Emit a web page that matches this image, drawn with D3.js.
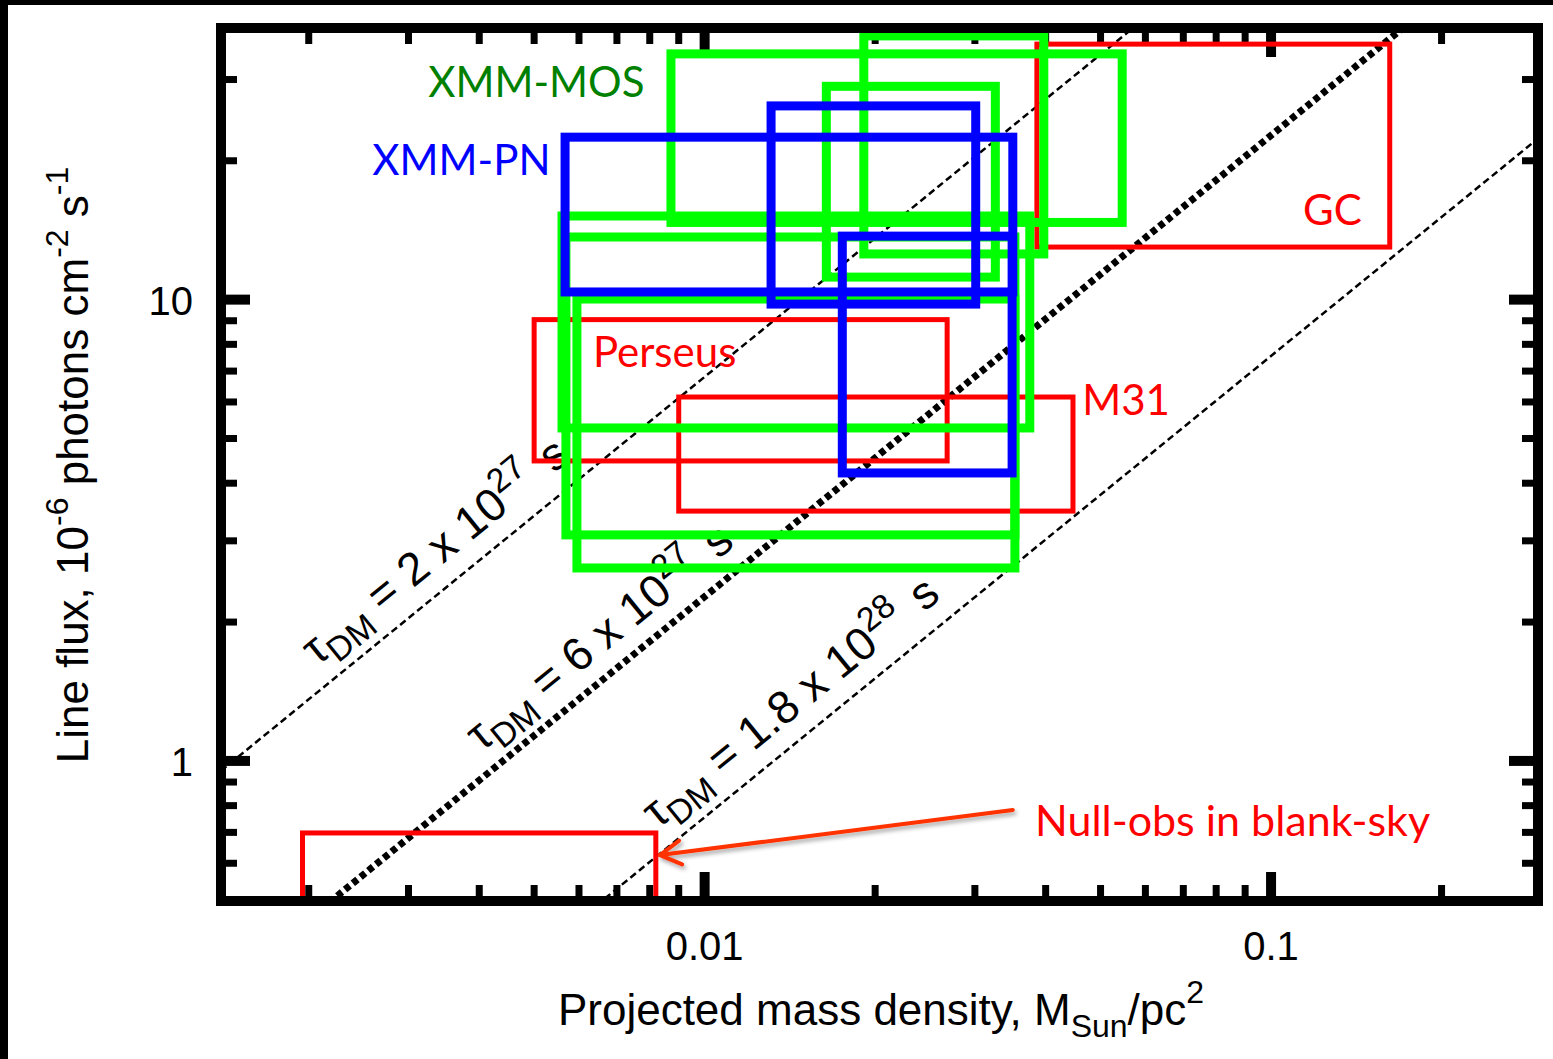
<!DOCTYPE html>
<html>
<head>
<meta charset="utf-8">
<script src="https://cdn.jsdelivr.net/npm/d3@7"></script>
<style>
  body { margin: 0; background: #fff; }
  text { white-space: pre; }
</style>
</head>
<body>
<div id="canvas"></div>
<script>
"use strict"

/* Size of the picture */
let svgWidth = 1553;
let svgHeight = 1059;

/* Centre of the thick black plot frame */
let leftEdge = 221;
let rightEdge = 1538;
let topEdge = 28;
let bottomEdge = 901;
let frameWidth = 10;

/* Axis ranges (log-log) */
let densityRange = [0.0014, 0.296];
let fluxRange = [0.497, 38.8];

/* Labelled ticks */
let xTickLabels = [0.01, 0.1];
let yTickLabels = [1, 10];

/* Boxes: [density low, density high, flux low, flux high] */
let redBoxes = [
    [0.0386, 0.162, 13.0, 35.8],   // GC
    [0.0050, 0.0268, 4.47, 9.05],  // Perseus
    [0.0090, 0.0447, 3.48, 6.15],  // M31
    [0.00195, 0.0082, 0.45, 0.698] // blank sky
];
let greenBoxes = [
    [0.00872, 0.0546, 14.7, 34.1],
    [0.0191, 0.0397, 12.56, 37.3],
    [0.0164, 0.0326, 11.19, 29.0],
    [0.0056, 0.0375, 5.27, 15.18],
    [0.00569, 0.0353, 3.09, 13.67],
    [0.00595, 0.0353, 2.62, 10.03]
];
let blueBoxes = [
    [0.00567, 0.0350, 10.39, 22.5],
    [0.0131, 0.0301, 9.78, 26.3],
    [0.0175, 0.0349, 4.21, 13.73]
];

/* Constant lifetime lines: flux = slope * density */
let lineSlopes = [680, 227, 75.5];
let lineMantissas = ["2", "6", "1.8"];
let lineExponents = ["27", "27", "28"];
let lineLabelStart = [0.00218, 0.00425, 0.0087];

/* Text annotations */
let boxLabels = ["XMM-MOS", "XMM-PN", "GC", "Perseus", "M31", "Null-obs in blank-sky"];
let boxLabelColors = ["#008000", "#0000ff", "#ff0000", "#ff0000", "#ff0000", "#ff0000"];
let boxLabelDensity = [0.00325, 0.00259, 0.1139, 0.00635, 0.0464, 0.0383];
let boxLabelFlux = [27.5, 18.63, 14.51, 7.14, 5.62, 0.688];

/* Arrow from the blank-sky label to its box: [density, flux] */
let arrowFrom = [0.0350, 0.783];
let arrowTo = [0.00834, 0.625];

let axisFont = "'Liberation Sans', Arial, Helvetica, sans-serif";
let noteFont = "Lato, 'Open Sans', sans-serif";

let svg = d3.select("#canvas")
    .append("svg")
    .attr("width", svgWidth)
    .attr("height", svgHeight);

svg.append("rect")
    .attr("width", svgWidth)
    .attr("height", svgHeight)
    .attr("fill", "white");

/* Black slide border on top and left */
svg.append("rect").attr("x", 0).attr("y", 0).attr("width", svgWidth).attr("height", 5).attr("fill", "black");
svg.append("rect").attr("x", 0).attr("y", 0).attr("width", 8).attr("height", svgHeight).attr("fill", "black");

let xScale = d3.scaleLog()
    .domain(densityRange)
    .range([leftEdge, rightEdge]);

let yScale = d3.scaleLog()
    .domain(fluxRange)
    .range([bottomEdge, topEdge]);

/* Clip everything inside the frame */
let half = frameWidth / 2;
svg.append("defs").append("clipPath")
    .attr("id", "plotClip")
    .append("rect")
    .attr("x", leftEdge + half)
    .attr("y", topEdge + half)
    .attr("width", rightEdge - leftEdge - frameWidth)
    .attr("height", bottomEdge - topEdge - frameWidth);

let shadow = svg.select("defs").append("filter")
    .attr("id", "shadow")
    .attr("x", "-10%").attr("y", "-50%")
    .attr("width", "120%").attr("height", "200%");
shadow.append("feDropShadow")
    .attr("dx", 2).attr("dy", 3)
    .attr("stdDeviation", 2)
    .attr("flood-color", "#000")
    .attr("flood-opacity", 0.35);

/* Ticks on all four sides */
function isMajor(v, list) {
    return list.some(function (m) { return Math.abs(v / m - 1) < 1e-6; });
}

let xTicks = xScale.ticks();
let yTicks = yScale.ticks();
let ticks = svg.append("g").attr("stroke", "black");

xTicks.forEach(function (t) {
    let major = isMajor(t, xTickLabels);
    let len = major ? 24 : 11;
    let w = major ? 10 : 7;
    let x = xScale(t);
    ticks.append("line")
        .attr("x1", x).attr("x2", x)
        .attr("y1", bottomEdge - half).attr("y2", bottomEdge - half - len)
        .attr("stroke-width", w);
    ticks.append("line")
        .attr("x1", x).attr("x2", x)
        .attr("y1", topEdge + half).attr("y2", topEdge + half + len)
        .attr("stroke-width", w);
});

yTicks.forEach(function (t) {
    let major = isMajor(t, yTickLabels);
    let len = major ? 24 : 11;
    let w = major ? 10 : 7;
    let y = yScale(t);
    ticks.append("line")
        .attr("x1", leftEdge + half).attr("x2", leftEdge + half + len)
        .attr("y1", y).attr("y2", y)
        .attr("stroke-width", w);
    ticks.append("line")
        .attr("x1", rightEdge - half).attr("x2", rightEdge - half - len)
        .attr("y1", y).attr("y2", y)
        .attr("stroke-width", w);
});

/* Tick labels */
xTickLabels.forEach(function (t) {
    svg.append("text")
        .attr("x", xScale(t))
        .attr("y", 960)
        .style("font-family", axisFont)
        .style("font-size", "40px")
        .style("text-anchor", "middle")
        .text(String(t));
});

yTickLabels.forEach(function (t) {
    svg.append("text")
        .attr("x", 193)
        .attr("y", yScale(t) + 15)
        .style("font-family", axisFont)
        .style("font-size", "40px")
        .style("text-anchor", "end")
        .text(String(t));
});

/* Axis titles */
let xTitle = svg.append("text")
    .attr("x", 881)
    .attr("y", 1025)
    .style("font-family", axisFont)
    .style("font-size", "44px")
    .style("text-anchor", "middle");
xTitle.append("tspan").text("Projected mass density, M");
xTitle.append("tspan").attr("dy", 12).style("font-size", "32px").text("Sun");
xTitle.append("tspan").attr("dy", -12).text("/pc");
xTitle.append("tspan").attr("dy", -22).style("font-size", "32px").text("2");

let yTitle = svg.append("text")
    .attr("transform", "translate(88,465) rotate(-90)")
    .style("font-family", axisFont)
    .style("font-size", "44px")
    .style("text-anchor", "middle");
yTitle.append("tspan").text("Line flux, 10");
yTitle.append("tspan").attr("dy", -20).style("font-size", "32px").text("-6");
yTitle.append("tspan").attr("dy", 20).text(" photons cm");
yTitle.append("tspan").attr("dy", -20).style("font-size", "32px").text("-2");
yTitle.append("tspan").attr("dy", 20).text(" s");
yTitle.append("tspan").attr("dy", -20).style("font-size", "32px").text("-1");

/* Constant lifetime lines */
let plot = svg.append("g").attr("clip-path", "url(#plotClip)");

let lineGen = d3.line()
    .x(function (d) { return xScale(d[0]); })
    .y(function (d) { return yScale(d[1]); });

lineSlopes.forEach(function (k, i) {
    let thick = (i === 1);
    plot.append("path")
        .attr("d", lineGen(densityRange.map(function (d) { return [d, k * d]; })))
        .attr("fill", "none")
        .attr("stroke", "black")
        .attr("stroke-width", thick ? 7 : 2.5)
        .attr("stroke-dasharray", thick ? "6,4" : "7,4");
});

/* Rotated labels on the lines */
lineSlopes.forEach(function (k, i) {
    let d = lineLabelStart[i];
    let px = xScale(d);
    let py = yScale(k * d);
    let angle = Math.atan2(yScale(k * d * 10) - py, xScale(d * 10) - px) * 180 / Math.PI;
    let t = svg.append("text")
        .attr("transform", "translate(" + px + "," + py + ") rotate(" + angle + ")")
        .attr("x", 0)
        .attr("y", -20)
        .style("font-family", axisFont)
        .style("font-size", "46px");
    t.append("tspan").text("τ");
    t.append("tspan").attr("dy", 11).style("font-size", "34px").text("DM");
    t.append("tspan").attr("dy", -11).text(" = " + lineMantissas[i] + " x 10");
    t.append("tspan").attr("dy", -19).style("font-size", "34px").text(lineExponents[i]);
    t.append("tspan").attr("dy", 19).attr("dx", 6).text(" s");
});

/* Boxes */
let boxLayer = svg.append("g").attr("clip-path", "url(#plotClip)");

function drawBoxes(list, color, width) {
    boxLayer.append("g")
        .selectAll("rect")
        .data(list)
        .join("rect")
        .attr("x", function (b) { return xScale(b[0]); })
        .attr("y", function (b) { return yScale(b[3]); })
        .attr("width", function (b) { return xScale(b[1]) - xScale(b[0]); })
        .attr("height", function (b) { return yScale(b[2]) - yScale(b[3]); })
        .attr("fill", "none")
        .attr("stroke", color)
        .attr("stroke-width", width);
}

drawBoxes(redBoxes, "#ff0000", 5);
drawBoxes(greenBoxes, "#00ff00", 9);
drawBoxes(blueBoxes, "#0000ff", 9);

/* Box labels */
boxLabels.forEach(function (label, i) {
    svg.append("text")
        .attr("x", xScale(boxLabelDensity[i]))
        .attr("y", yScale(boxLabelFlux[i]))
        .style("font-family", noteFont)
        .style("font-size", i === 5 ? "43px" : "42px")
        .attr("fill", boxLabelColors[i])
        .text(label);
});

/* Arrow pointing at the blank-sky box */
let tail = [xScale(arrowFrom[0]), yScale(arrowFrom[1])];
let tip = [xScale(arrowTo[0]), yScale(arrowTo[1])];
let dx = tail[0] - tip[0];
let dy = tail[1] - tip[1];
let len = Math.sqrt(dx * dx + dy * dy);
let ux = dx / len, uy = dy / len;
let armLen = 24, armAngle = 30 * Math.PI / 180;
let ca = Math.cos(armAngle), sa = Math.sin(armAngle);
let arm1 = [tip[0] + armLen * (ux * ca - uy * sa), tip[1] + armLen * (uy * ca + ux * sa)];
let arm2 = [tip[0] + armLen * (ux * ca + uy * sa), tip[1] + armLen * (uy * ca - ux * sa)];

let arrow = svg.append("g")
    .attr("filter", "url(#shadow)")
    .attr("stroke", "#ff3300")
    .attr("stroke-width", 4)
    .attr("stroke-linecap", "round")
    .attr("stroke-linejoin", "round")
    .attr("fill", "none");
arrow.append("line")
    .attr("x1", tail[0]).attr("y1", tail[1])
    .attr("x2", tip[0]).attr("y2", tip[1]);
arrow.append("path")
    .attr("d", "M" + arm1[0] + "," + arm1[1] + "L" + tip[0] + "," + tip[1] + "L" + arm2[0] + "," + arm2[1]);

/* Frame drawn last so it sits above the clipped marks */
svg.append("rect")
    .attr("x", leftEdge)
    .attr("y", topEdge)
    .attr("width", rightEdge - leftEdge)
    .attr("height", bottomEdge - topEdge)
    .attr("fill", "none")
    .attr("stroke", "black")
    .attr("stroke-width", frameWidth);
</script>
</body>
</html>
